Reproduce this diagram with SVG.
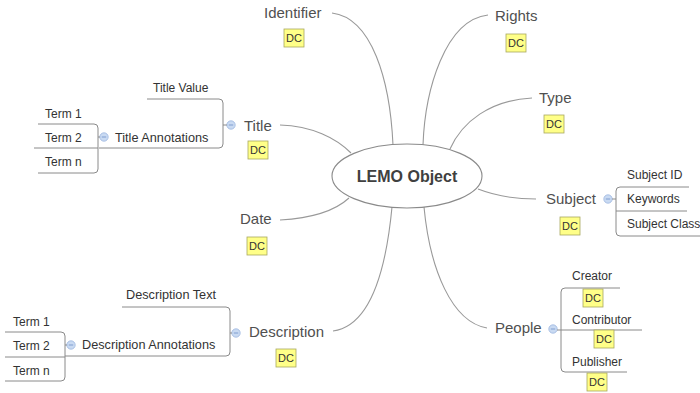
<svg xmlns="http://www.w3.org/2000/svg" width="700" height="393" viewBox="0 0 700 393">
<style>
.bg{fill:#ffffff}
.con{fill:none;stroke:#999999;stroke-width:1.1}
.br{fill:none;stroke:#8a8a8a;stroke-width:1}
.main{font-family:"Liberation Sans",Arial,sans-serif;font-size:15px;fill:#505050}
.sub{font-family:"Liberation Sans",Arial,sans-serif;font-size:12px;fill:#333333}
.ann{font-size:12.7px}
.center{font-family:"Liberation Sans",Arial,sans-serif;font-size:16px;font-weight:bold;fill:#404040}
.dcbox{fill:#ffff88;stroke:#a8a860;stroke-width:0.8}
.dct{font-family:"Liberation Sans",Arial,sans-serif;font-size:11px;fill:#333333;text-anchor:middle}
.col{fill:#c9daf2;stroke:#9db6e0;stroke-width:0.8}
.colm{stroke:#6f8fc8;stroke-width:0.8}
</style>
<defs>
<g id="dc"><rect class="dcbox" x="0" y="0" width="20" height="18"/><text class="dct" x="10" y="13">DC</text></g>
<g id="cl"><circle class="col" cx="0" cy="0" r="4.2"/><line class="colm" x1="-2.2" y1="0" x2="2.2" y2="0"/></g>
</defs>
<rect class="bg" x="0" y="0" width="700" height="393"/>

<g id="connectors">
<path class="con" d="M332,13 C372,18 390,80 393,145"/>
<path class="con" d="M488,15 C445,20 425,90 423,145"/>
<path class="con" d="M532,98 C490,100 462,122 450,149"/>
<path class="con" d="M280,125 C312,126 336,138 351,153"/>
<path class="con" d="M280,220 C315,218 336,210 349,198"/>
<path class="con" d="M333,331 C370,326 386,270 392,207"/>
<path class="con" d="M424,207 C430,270 452,322 487,328"/>
<path class="con" d="M478,189 C496,196 515,199 536,199"/>
</g>

<g id="center">
<ellipse cx="407" cy="176" rx="75" ry="32" fill="#ffffff" stroke="#8a8a8a" stroke-width="1.1"/>
<text class="center" x="407" y="182" text-anchor="middle">LEMO Object</text>
</g>

<g id="identifier">
<text class="main" x="264" y="18">Identifier</text>
<use href="#dc" x="284" y="29"/>
</g>

<g id="rights">
<text class="main" x="495" y="21">Rights</text>
<use href="#dc" x="506" y="34"/>
</g>

<g id="type">
<text class="main" x="539" y="103">Type</text>
<use href="#dc" x="544" y="115"/>
</g>

<g id="title">
<text class="main" x="244" y="131">Title</text>
<use href="#dc" x="248" y="141"/>
<use href="#cl" x="231" y="125"/>
<path class="br" d="M227,125 H223 M147,99 H219 Q223,99 223,103 V144 Q223,148 219,148 H99"/>
</g>

<g id="title-value">
<text class="sub" x="153" y="92">Title Value</text>
</g>

<g id="title-annotations">
<text class="sub ann" x="115" y="142">Title Annotations</text>
<use href="#cl" x="104" y="137"/>
<path class="br" d="M100,137 H98 M38,124 H94 Q98,124 98,128 V169 Q98,173 94,173 H38 M34,148 H98"/>
</g>
<g id="title-term1"><text class="sub" x="45" y="118">Term 1</text></g>
<g id="title-term2"><text class="sub" x="45" y="142">Term 2</text></g>
<g id="title-termn"><text class="sub" x="45" y="166">Term n</text></g>

<g id="date">
<text class="main" x="240" y="224">Date</text>
<use href="#dc" x="247" y="237"/>
</g>

<g id="description">
<text class="main" x="249" y="337">Description</text>
<use href="#dc" x="276" y="349"/>
<use href="#cl" x="236" y="333"/>
<path class="br" d="M232,333 H230 M122,307 H226 Q230,307 230,311 V352 Q230,356 226,356 H65"/>
</g>

<g id="description-text">
<text class="sub ann" x="126" y="299">Description Text</text>
</g>

<g id="description-annotations">
<text class="sub ann" x="82" y="349">Description Annotations</text>
<use href="#cl" x="71" y="345"/>
<path class="br" d="M67,345 H65 M5,332 H61 Q65,332 65,336 V377 Q65,381 61,381 H5 M5,357 H65"/>
</g>
<g id="desc-term1"><text class="sub" x="13" y="326">Term 1</text></g>
<g id="desc-term2"><text class="sub" x="13" y="350">Term 2</text></g>
<g id="desc-termn"><text class="sub" x="13" y="375">Term n</text></g>

<g id="subject">
<text class="main" x="546" y="204">Subject</text>
<use href="#dc" x="560" y="217"/>
<use href="#cl" x="608" y="199"/>
<path class="br" d="M612,199 H616 M689,187 H620 Q616,187 616,191 V232 Q616,236 620,236 H700 M616,211 H687"/>
</g>
<g id="subject-id"><text class="sub" x="627" y="179">Subject ID</text></g>
<g id="keywords"><text class="sub" x="627" y="203">Keywords</text></g>
<g id="subject-class"><text class="sub" x="627" y="228">Subject Class</text></g>

<g id="people">
<text class="main" x="495" y="333">People</text>
<use href="#cl" x="553" y="329"/>
<path class="br" d="M557,330 H642 M620,288 H565 Q561,288 561,292 V368 Q561,372 565,372 H627"/>
</g>
<g id="creator">
<text class="sub" x="572" y="280">Creator</text>
<use href="#dc" x="583" y="289"/>
</g>
<g id="contributor">
<text class="sub" x="572" y="324">Contributor</text>
<use href="#dc" x="594" y="330"/>
</g>
<g id="publisher">
<text class="sub" x="572" y="366">Publisher</text>
<use href="#dc" x="587" y="373"/>
</g>
</svg>
